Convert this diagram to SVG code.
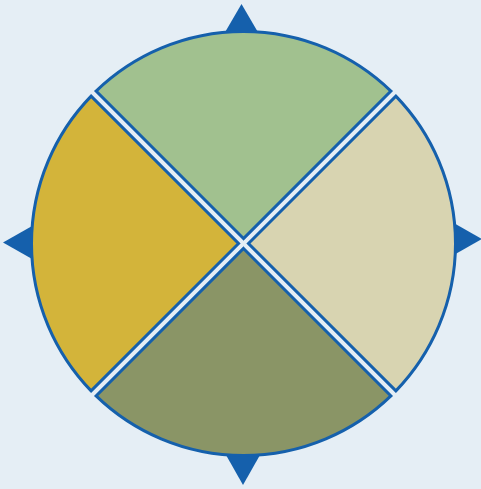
<svg xmlns="http://www.w3.org/2000/svg" width="481" height="489" viewBox="0 0 481 489">
  <style>
    .pointer { fill: #1560ac; stroke: none; }
    .wedge { stroke: #1560ac; stroke-width: 3; stroke-linejoin: miter; }
  </style>
  <rect x="0" y="0" width="481" height="489" fill="#e5eef5"/>
  <g id="pointers">
    <polygon id="pointer-top" class="pointer" points="241.5,4 224,34 259,34"/>
    <polygon id="pointer-bottom" class="pointer" points="243,485 226,455 260,455"/>
    <polygon id="pointer-left" class="pointer" points="3,242.5 33,225.5 33,259.5"/>
    <polygon id="pointer-right" class="pointer" points="482,239 452,222 452,256"/>
  </g>
  <g id="wedge-top">
    <path class="wedge" fill="#a1c18f" d="M 243.5,238.55 L 96.09,91.14 A 212 212 0 0 1 390.91,91.14 Z"/>
  </g>
  <g id="wedge-right">
    <path class="wedge" fill="#d8d4b1" d="M 248.45,243.5 L 395.86,96.09 A 212 212 0 0 1 395.86,390.91 Z"/>
  </g>
  <g id="wedge-bottom">
    <path class="wedge" fill="#8a9566" d="M 243.5,248.45 L 390.91,395.86 A 212 212 0 0 1 96.09,395.86 Z"/>
  </g>
  <g id="wedge-left">
    <path class="wedge" fill="#d3b43a" d="M 238.55,243.5 L 91.14,390.91 A 212 212 0 0 1 91.14,96.09 Z"/>
  </g>
  <g id="connectors"/>
</svg>
